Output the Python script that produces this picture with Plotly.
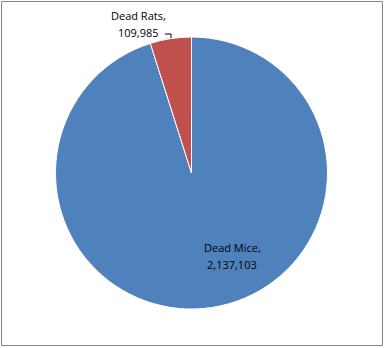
import plotly.graph_objects as go

labels = ["Dead Mice", "Dead Rats"]
values = [2137103, 109985]
colors = ["#4F81BD", "#C0504D"]

W, H = 384, 348

fig = go.Figure(go.Pie(
    labels=labels, values=values, sort=False, direction="clockwise", rotation=0,
    marker=dict(colors=colors, line=dict(color="white", width=1)),
    textinfo="none", hoverinfo="label+value", showlegend=False,
    domain=dict(x=[55/W, 328/W], y=[1-309/H, 1-37/H]),
))

# label positions (pixel centres) for each slice
label_pos = {"Dead Mice": (232, 247, 264), "Dead Rats": (138, 15, 32)}
font = dict(family="Open Sans", size=11, color="#000000")
for lab, val in zip(labels, values):
    cx, y1, y2 = label_pos[lab]
    fig.add_annotation(x=cx/W, y=1-y1/H, xref="paper", yref="paper", text=f"{lab},",
                       showarrow=False, font=font, xanchor="center", yanchor="middle")
    fig.add_annotation(x=cx/W, y=1-y2/H, xref="paper", yref="paper", text=f"{val:,}",
                       showarrow=False, font=font, xanchor="center", yanchor="middle")

# leader line for Dead Rats
fig.add_shape(type="path", xref="paper", yref="paper",
              path=f"M {165/W} {1-34/H} L {171/W} {1-34/H} L {171/W} {1-38/H}",
              line=dict(color="#000000", width=1))
# chart border
fig.add_shape(type="rect", xref="paper", yref="paper", x0=1.5/W, x1=382.5/W, y0=1-345.5/H, y1=1-1.5/H,
              line=dict(color="#868686", width=1))

fig.update_layout(width=W, height=H, margin=dict(l=0, r=0, t=0, b=0),
                  paper_bgcolor="white", plot_bgcolor="white")
fig.write_html("out.html")
